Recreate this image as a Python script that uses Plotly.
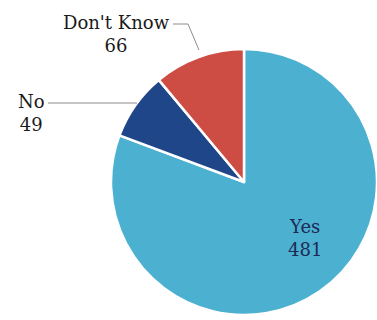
import plotly.graph_objects as go

# Survey responses
labels = ["Yes", "No", "Don't Know"]
values = [481, 49, 66]
colors = ["#4cb0d0", "#20468a", "#cd4d44"]

W, H = 377, 320
SERIF = "DejaVu Serif"

fig = go.Figure(
    go.Pie(
        labels=labels,
        values=values,
        sort=False,
        direction="clockwise",
        rotation=0,
        textinfo="none",
        hoverinfo="label+value",
        marker=dict(colors=colors, line=dict(color="white", width=2.5)),
        domain=dict(x=[111 / W, 1.0], y=[5 / H, 271 / H]),
        showlegend=False,
    )
)

# Label placement (paper pixel centres) and text colours per category
label_pos = {"Yes": (305, 238), "No": (31, 113), "Don't Know": (116, 34)}
label_col = {"Yes": "#1c2a55", "No": "#1a1a1a", "Don't Know": "#1a1a1a"}

for lab, val in zip(labels, values):
    px, py = label_pos[lab]
    fig.add_annotation(
        x=px / W, y=1 - py / H, xref="paper", yref="paper",
        text=f"{lab}<br>{val}", showarrow=False,
        font=dict(family=SERIF, size=18, color=label_col[lab]),
        xanchor="center", yanchor="middle", align="center",
    )

# Leader lines from the outside labels to their slices
def px_line(x0, y0, x1, y1):
    fig.add_shape(type="line", xref="paper", yref="paper",
                  x0=x0 / W, y0=1 - y0 / H, x1=x1 / W, y1=1 - y1 / H,
                  line=dict(color="#8c8c8c", width=1))

px_line(48, 103, 137, 103)
px_line(173, 24, 188, 24)
px_line(188, 24, 199, 50)

fig.update_layout(
    width=W, height=H,
    margin=dict(l=0, r=0, t=0, b=0),
    paper_bgcolor="white",
    plot_bgcolor="white",
    font=dict(family=SERIF),
)

fig.write_html("out.html")
